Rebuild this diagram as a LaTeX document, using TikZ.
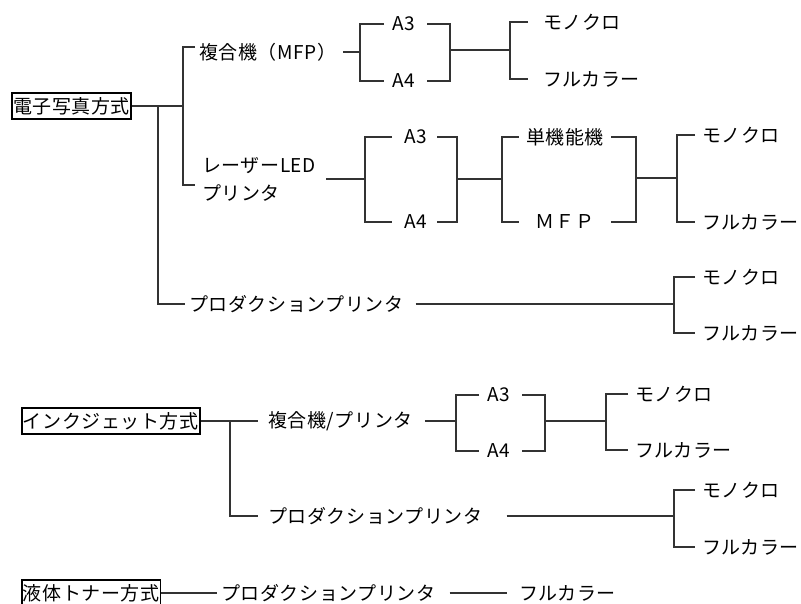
\documentclass[tikz,border=0pt]{standalone}
\usepackage{fontspec}
\newfontfamily\jpfont{Noto Sans CJK JP}[LetterSpace=3]
\tikzset{lbl/.style={anchor=west, inner sep=2pt, font=\jpfont\fontsize{19}{28}\selectfont}}
\tikzset{hbox/.style={lbl, draw, line width=1.6pt, inner sep=1.2pt, minimum height=26pt}}
\tikzset{conn/.style={draw, line width=1.2pt, black!80}}
\tikzset{mid/.style={lbl, anchor=center, minimum width=92pt}}

\begin{document}
\begin{tikzpicture}[x=1pt,y=-1pt]
\useasboundingbox (0,0) rectangle (801,604);

% 電子写真方式
\node[hbox] (ep) at (11,106) {電子写真方式};
\node[lbl] (mfp) at (197,52) {複合機（MFP）};
\node[lbl, align=left] (laser) at (200,179) {レーザーLED\\プリンタ};
\node[lbl] (prodA) at (187,304) {プロダクションプリンタ};
\coordinate (epJ) at (158,106);
\coordinate (epK) at (183,106);
\coordinate (epT1) at (195,47);
\coordinate (epT2) at (195,185);
\draw[conn] (ep.east) -- (epK);
\draw[conn] (epT1) -| (epK) |- (epT2);
\draw[conn, shorten >=2pt] (epJ) |- (prodA.west);

% MFP
\node[lbl] (mfA3) at (390,24) {A3};
\node[lbl] (mfA4) at (390,81) {A4};
\node[lbl] (mfMono) at (541,22) {モノクロ};
\node[lbl] (mfFull) at (541,79) {フルカラー};
\coordinate (mfJ) at (360,52);
\coordinate (mfK) at (450,50);
\coordinate (mfL) at (510,50);
\draw[conn, shorten <=5pt] (mfp.east) -- (mfJ);
\draw[conn, shorten <=6pt, shorten >=6pt] (mfA3.west) -| (mfJ) |- (mfA4.west);
\draw[conn, shorten <=10pt, shorten >=10pt] (mfA3.east) -| (mfK) |- (mfA4.east);
\draw[conn] (mfK) -- (mfL);
\draw[conn, shorten <=13pt, shorten >=13pt] (mfMono.west) -| (mfL) |- (mfFull.west);

% laser / LED
\node[lbl] (lzA3) at (402,137) {A3};
\node[lbl] (lzA4) at (402,222) {A4};
\node[mid] (lzSgl) at (565,137) {単機能機};
\node[mid] (lzMfp) at (565,222) {ＭＦＰ};
\node[lbl] (lzMono) at (700,135) {モノクロ};
\node[lbl] (lzFull) at (700,222) {フルカラー};
\coordinate (lzJ) at (365,179);
\coordinate (lzK) at (457,179);
\coordinate (lzL) at (502,179);
\coordinate (lzM) at (636,178);
\coordinate (lzN) at (677,178);
\draw[conn, shorten <=8pt] (laser.east) -- (lzJ);
\draw[conn, shorten <=10pt, shorten >=10pt] (lzA3.west) -| (lzJ) |- (lzA4.west);
\draw[conn, shorten <=8pt, shorten >=8pt] (lzA3.east) -| (lzK) |- (lzA4.east);
\draw[conn] (lzK) -- (lzL);
\draw[conn] (lzSgl.west) -| (lzL) |- (lzMfp.west);
\draw[conn] (lzSgl.east) -| (lzM) |- (lzMfp.east);
\draw[conn] (lzM) -- (lzN);
\draw[conn, shorten <=5pt, shorten >=5pt] (lzMono.west) -| (lzN) |- (lzFull.west);

% production printer
\node[lbl] (paMono) at (700,277) {モノクロ};
\node[lbl] (paFull) at (700,333) {フルカラー};
\coordinate (paJ) at (674,304);
\draw[conn, shorten <=10pt] (prodA.east) -- (paJ);
\draw[conn, shorten <=5pt, shorten >=5pt] (paMono.west) -| (paJ) |- (paFull.west);

% インクジェット方式
\node[hbox] (ij) at (21,421) {インクジェット方式};
\node[lbl] (ijMfp) at (266,421) {複合機/プリンタ};
\node[lbl] (prodB) at (266,516) {プロダクションプリンタ};
\coordinate (ijJ) at (230,421);
\draw[conn, shorten >=8pt] (ij.east) -- (ijMfp.west);
\draw[conn, shorten >=8pt] (ijJ) |- (prodB.west);

\node[lbl] (ijA3) at (485,395) {A3};
\node[lbl] (ijA4) at (485,451) {A4};
\node[lbl] (ijMono) at (633,394) {モノクロ};
\node[lbl] (ijFull) at (633,450) {フルカラー};
\coordinate (ijK) at (456,421);
\coordinate (ijL) at (545,421);
\coordinate (ijM) at (606,421);
\draw[conn, shorten <=10pt] (ijMfp.east) -- (ijK);
\draw[conn, shorten <=6pt, shorten >=6pt] (ijA3.west) -| (ijK) |- (ijA4.west);
\draw[conn, shorten <=10pt, shorten >=10pt] (ijA3.east) -| (ijL) |- (ijA4.east);
\draw[conn] (ijL) -- (ijM);
\draw[conn, shorten <=5pt, shorten >=5pt] (ijMono.west) -| (ijM) |- (ijFull.west);

\node[lbl] (pbMono) at (700,490) {モノクロ};
\node[lbl] (pbFull) at (700,547) {フルカラー};
\coordinate (pbJ) at (674,516);
\draw[conn, shorten <=22pt] (prodB.east) -- (pbJ);
\draw[conn, shorten <=5pt, shorten >=5pt] (pbMono.west) -| (pbJ) |- (pbFull.west);

% 液体トナー方式
\node[hbox] (lq) at (21,593) {液体トナー方式};
\node[lbl] (prodC) at (219,593) {プロダクションプリンタ};
\node[lbl] (lqFull) at (517,593) {フルカラー};
\draw[conn, shorten >=2pt] (lq.east) -- (prodC.west);
\draw[conn, shorten <=12pt, shorten >=10pt] (prodC.east) -- (lqFull.west);
\end{tikzpicture}
\end{document}
